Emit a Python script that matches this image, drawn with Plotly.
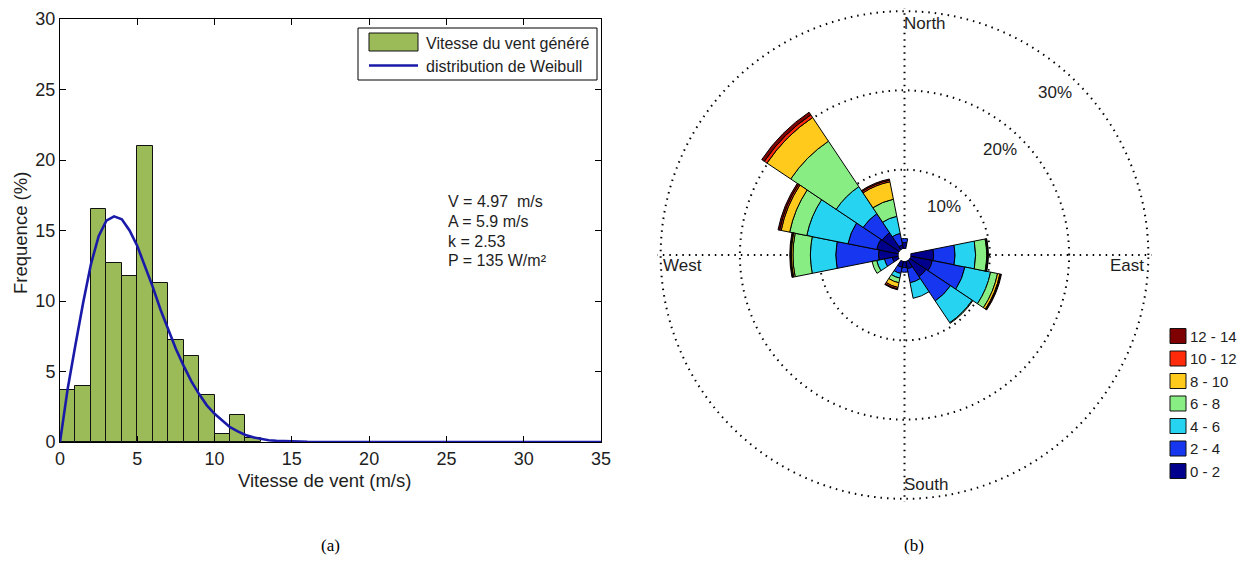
import plotly.graph_objects as go

# ---------------- (a) histogram data ----------------
bin_left = [0, 1, 2, 3, 4, 5, 6, 7, 8, 9, 10, 11, 12]
bin_freq = [3.7, 4.0, 16.5, 12.7, 11.8, 21.0, 11.3, 7.2, 6.1, 3.3, 0.6, 1.9, 0.3]

weib_x = [0, 0.25, 0.5, 1, 1.5, 2, 2.5, 3, 3.5, 4, 4.5, 5, 5.5, 6, 6.5, 7, 7.5, 8,
          8.5, 9, 9.5, 10, 10.5, 11, 11.5, 12, 12.5, 13, 13.5, 14, 15, 16, 17, 35]
weib_y = [0, 1.8, 3.8, 6.9, 9.9, 12.6, 14.6, 15.7, 16.0, 15.8, 15.0, 13.9, 12.5, 11.0,
          9.4, 8.0, 6.6, 5.4, 4.3, 3.4, 2.6, 2.0, 1.5, 1.05, 0.75, 0.5, 0.33, 0.21,
          0.13, 0.08, 0.03, 0.01, 0, 0]

x_ticks = [0, 5, 10, 15, 20, 25, 30, 35]
y_ticks = [0, 5, 10, 15, 20, 25, 30]
hist_names = ["Vitesse du vent généré", "distribution de Weibull"]
stats_lines = ["V = 4.97  m/s", "A = 5.9 m/s", "k = 2.53", "P = 135 W/m²"]

# ---------------- (b) wind rose data ----------------
directions = ["N", "NNE", "NE", "ENE", "E", "ESE", "SE", "SSE",
              "S", "SSW", "SW", "WSW", "W", "WNW", "NW", "NNW"]
direction_deg = [0, 22.5, 45, 67.5, 90, 112.5, 135, 157.5,
                 180, 202.5, 225, 247.5, 270, 292.5, 315, 337.5]
speed_bins = ["0 - 2", "2 - 4", "4 - 6", "6 - 8", "8 - 10", "10 - 12", "12 - 14"]
freq_0_2 = [0.8, 0, 0, 0, 2.9, 2.8, 2.5, 1.0, 0.8, 0.8, 0, 0.8, 2.5, 2.8, 2.6, 0.5]
freq_2_4 = [0.5, 0, 0, 0, 2.7, 4.2, 3.7, 1.8, 0.6, 0.8, 0, 1.0, 5.4, 3.7, 2.9, 1.5]
freq_4_6 = [0, 0, 0, 0, 2.6, 3.3, 3.3, 2.0, 0, 0.6, 0, 1.0, 3.2, 5.3, 4.1, 2.2]
freq_6_8 = [0, 0, 0, 0, 1.4, 0.9, 0.1, 0, 0, 0.6, 0, 0.6, 2.2, 2.2, 6.9, 2.2]
freq_8_10 = [0, 0, 0, 0, 0.1, 0.3, 0, 0, 0, 0.6, 0, 0, 0.2, 1.1, 3.6, 2.25]
freq_10_12 = [0, 0, 0, 0, 0.05, 0.1, 0, 0, 0, 0.2, 0, 0, 0.1, 0.2, 0.4, 0.2]
freq_12_14 = [0, 0, 0, 0, 0.05, 0.1, 0, 0, 0, 0.1, 0, 0, 0.1, 0.2, 0.4, 0.15]
rose_series = [freq_0_2, freq_2_4, freq_4_6, freq_6_8, freq_8_10, freq_10_12, freq_12_14]
rose_colors = ["#00008C", "#1636F0", "#26D4F2", "#88EE84", "#FFCA1C", "#FF2A0A", "#7E0000"]
ring_vals = [10, 20, 30]
ring_labels = ["10%", "20%", "30%"]
compass_labels = ["North", "East", "South", "West"]

W, H = 1238, 562
FONT = "Liberation Sans, Arial, sans-serif"
SERIF = "Liberation Serif, Times New Roman, serif"
TXT = "#1e1e1e"
BAR_GREEN = "#9BBB59"
CURVE_BLUE = "#1A1AA8"


def px(x):
    return x / W


def py(y):
    return (H - y) / H


fig = go.Figure()

fig.add_trace(go.Bar(
    x=bin_left, y=bin_freq, offset=0, width=1,
    marker=dict(color=BAR_GREEN, line=dict(color="#111111", width=1)),
    name=hist_names[0], xaxis="x", yaxis="y", showlegend=False,
))
fig.add_trace(go.Scatter(
    x=weib_x, y=weib_y, mode="lines",
    line=dict(color=CURVE_BLUE, width=2.6),
    name=hist_names[1], xaxis="x", yaxis="y", cliponaxis=False, showlegend=False,
))

for vals, lab, col in zip(rose_series, speed_bins, rose_colors):
    fig.add_trace(go.Barpolar(
        r=vals, theta=direction_deg, width=22.5, name=lab,
        marker=dict(color=col, line=dict(color="#000000", width=1)),
        subplot="polar", showlegend=False,
    ))

annotations = []
shapes = []


def label(text, x, y, xanchor="left", size=16, family=FONT, color=TXT, textangle=0):
    annotations.append(dict(text=text, x=px(x), y=py(y), xref="paper", yref="paper",
                            xanchor=xanchor, yanchor="middle", showarrow=False,
                            textangle=textangle,
                            font=dict(family=family, size=size, color=color)))


# stats text block
for i, line in enumerate(stats_lines):
    label(line, 446, 202 + 19.6 * i, size=16)

# axis titles
label("Vitesse de vent (m/s)", 324, 480, xanchor="center", size=18.5)
label("Frequence (%)", 20, 233, xanchor="center", size=18.5, textangle=-90)

# histogram legend (box, patch, line, texts)
shapes.append(dict(type="rect", xref="paper", yref="paper", x0=px(358), x1=px(597),
                   y0=py(80), y1=py(28), line=dict(color="#000", width=1), fillcolor="white",
                   layer="above"))
shapes.append(dict(type="rect", xref="paper", yref="paper", x0=px(369), x1=px(418),
                   y0=py(51), y1=py(33), line=dict(color="#111", width=1), fillcolor=BAR_GREEN,
                   layer="above"))
shapes.append(dict(type="line", xref="paper", yref="paper", x0=px(369), x1=px(418),
                   y0=py(65.5), y1=py(65.5), line=dict(color=CURVE_BLUE, width=2.6),
                   layer="above"))
label(hist_names[0], 424, 43, size=16)
label(hist_names[1], 424, 66.5, size=16)

# compass / ring labels
label(compass_labels[0], 902, 23, size=17)
label(compass_labels[1], 1146, 265, xanchor="right", size=17)
label(compass_labels[2], 902, 485, size=17)
label(compass_labels[3], 661, 265, size=17)
label(ring_labels[0], 944, 206, xanchor="center", size=17)
label(ring_labels[1], 1000, 149, xanchor="center", size=17)
label(ring_labels[2], 1054.5, 93, xanchor="center", size=17)

# wind-rose legend (top = highest class)
for k, (lab, col) in enumerate(zip(reversed(speed_bins), reversed(rose_colors))):
    yc = 336 + 22.5 * k
    shapes.append(dict(type="rect", xref="paper", yref="paper", x0=px(1170), x1=px(1186),
                       y0=py(yc + 7.5), y1=py(yc - 7.5), line=dict(color="#111", width=1),
                       fillcolor=col))
    label(lab, 1188, yc, size=15)

# panel captions
label("(a)", 330, 545, xanchor="center", size=17, family=SERIF, color="#000")
label("(b)", 914, 545, xanchor="center", size=17, family=SERIF, color="#000")

R = 247
CX, CY = 904.5, 255

fig.update_layout(
    width=W, height=H,
    margin=dict(l=0, r=0, t=0, b=0, pad=0, autoexpand=False),
    template="none",
    paper_bgcolor="white", plot_bgcolor="white",
    font=dict(family=FONT, size=18, color=TXT),
    bargap=0,
    showlegend=False,
    xaxis=dict(domain=[px(60), px(601)], range=[0, 35], tickvals=x_ticks,
               ticks="inside", ticklen=6, tickcolor="#000", showline=True, linecolor="#000",
               linewidth=1, mirror="ticks", showgrid=False, zeroline=False,
               tickfont=dict(family=FONT, size=18, color=TXT)),
    yaxis=dict(domain=[1 - 442 / H, 1 - 19 / H], range=[0, 30], tickvals=y_ticks,
               ticks="inside", ticklen=6, tickcolor="#000", showline=True, linecolor="#000",
               linewidth=1, mirror="ticks", showgrid=False, zeroline=False,
               tickfont=dict(family=FONT, size=18, color=TXT)),
    polar=dict(
        domain=dict(x=[px(CX - R), px(CX + R)], y=[py(CY + R), py(CY - R)]),
        bgcolor="white", hole=0.025, barmode="stack",
        radialaxis=dict(range=[0, 30.4], tickvals=ring_vals, showticklabels=False, ticks="",
                        showline=False, showgrid=True, gridcolor="#000", gridwidth=1.6,
                        griddash="1.5px,5px", layer="above traces"),
        angularaxis=dict(rotation=90, direction="clockwise", tickvals=[0, 90, 180, 270],
                         showticklabels=False, ticks="", showline=False, showgrid=True,
                         gridcolor="#000", gridwidth=1.6, griddash="1.5px,5px",
                         layer="above traces"),
    ),
    annotations=annotations,
    shapes=shapes,
)

fig.write_html("out.html")
